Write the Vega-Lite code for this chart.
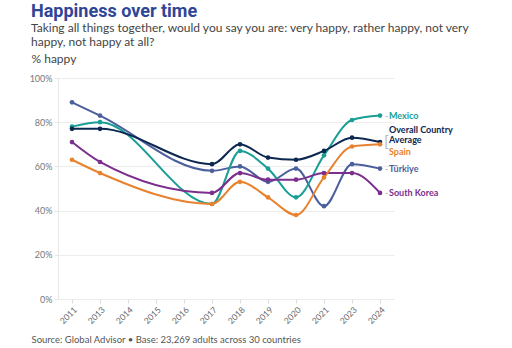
{
  "$schema": "https://vega.github.io/schema/vega-lite/v6.json",
  "width": 336,
  "height": 221,
  "padding": {"left": 29, "top": 3, "right": 5, "bottom": 5},
  "background": "white",
  "config": {
    "view": {"stroke": null},
    "font": "Lato",
    "axis": {"labelFont": "Lato", "titleFont": "Lato"}
  },
  "title": {
    "text": "Happiness over time",
    "subtitle": ["Taking all things together, would you say you are: very happy, rather happy, not very", "happy, not happy at all?"],
    "anchor": "start",
    "frame": "group",
    "dx": -27,
    "font": "Roboto",
    "fontSize": 18,
    "fontWeight": "bold",
    "color": "#2f4596",
    "subtitleFont": "Lato",
    "subtitleFontSize": 12,
    "subtitleColor": "#444444",
    "subtitleLineHeight": 14,
    "subtitlePadding": 2,
    "offset": 4
  },
  "data": {
    "values": [
      {"year": "2011", "country": "Türkiye", "value": 89},
      {"year": "2013", "country": "Türkiye", "value": 83},
      {"year": "2017", "country": "Türkiye", "value": 58},
      {"year": "2018", "country": "Türkiye", "value": 60},
      {"year": "2019", "country": "Türkiye", "value": 53},
      {"year": "2020", "country": "Türkiye", "value": 59},
      {"year": "2021", "country": "Türkiye", "value": 42},
      {"year": "2023", "country": "Türkiye", "value": 61},
      {"year": "2024", "country": "Türkiye", "value": 59},
      {"year": "2011", "country": "Mexico", "value": 78},
      {"year": "2013", "country": "Mexico", "value": 80},
      {"year": "2017", "country": "Mexico", "value": 43},
      {"year": "2018", "country": "Mexico", "value": 67},
      {"year": "2019", "country": "Mexico", "value": 59},
      {"year": "2020", "country": "Mexico", "value": 46},
      {"year": "2021", "country": "Mexico", "value": 65},
      {"year": "2023", "country": "Mexico", "value": 81},
      {"year": "2024", "country": "Mexico", "value": 83},
      {"year": "2011", "country": "Overall Country Average", "value": 77},
      {"year": "2013", "country": "Overall Country Average", "value": 77},
      {"year": "2017", "country": "Overall Country Average", "value": 61},
      {"year": "2018", "country": "Overall Country Average", "value": 70},
      {"year": "2019", "country": "Overall Country Average", "value": 64},
      {"year": "2020", "country": "Overall Country Average", "value": 63},
      {"year": "2021", "country": "Overall Country Average", "value": 67},
      {"year": "2023", "country": "Overall Country Average", "value": 73},
      {"year": "2024", "country": "Overall Country Average", "value": 71},
      {"year": "2011", "country": "South Korea", "value": 71},
      {"year": "2013", "country": "South Korea", "value": 62},
      {"year": "2017", "country": "South Korea", "value": 48},
      {"year": "2018", "country": "South Korea", "value": 57},
      {"year": "2019", "country": "South Korea", "value": 54},
      {"year": "2020", "country": "South Korea", "value": 54},
      {"year": "2021", "country": "South Korea", "value": 57},
      {"year": "2023", "country": "South Korea", "value": 57},
      {"year": "2024", "country": "South Korea", "value": 48},
      {"year": "2011", "country": "Spain", "value": 63},
      {"year": "2013", "country": "Spain", "value": 57},
      {"year": "2017", "country": "Spain", "value": 43},
      {"year": "2018", "country": "Spain", "value": 53},
      {"year": "2019", "country": "Spain", "value": 46},
      {"year": "2020", "country": "Spain", "value": 38},
      {"year": "2021", "country": "Spain", "value": 55},
      {"year": "2023", "country": "Spain", "value": 69},
      {"year": "2024", "country": "Spain", "value": 70}
    ]
  },
  "encoding": {
    "x": {
      "field": "year",
      "type": "ordinal",
      "scale": {"type": "point", "padding": 0.5, "domain": ["2011", "2013", "2014", "2015", "2016", "2017", "2018", "2019", "2020", "2021", "2023", "2024"]},
      "axis": {
        "title": "Source: Global Advisor • Base: 23,269 adults across 30 countries",
        "titleAnchor": "start",
        "titleAlign": "left",
        "titleBaseline": "middle",
        "titleX": -27,
        "titleY": 40,
        "titleFontSize": 9.5,
        "titleFontWeight": "normal",
        "titleColor": "#555555",
        "labelAngle": -45,
        "labelFontSize": 8.5,
        "labelColor": "#666666",
        "domain": false,
        "ticks": true,
        "tickColor": "#dddddd",
        "tickSize": 4,
        "grid": false
      }
    },
    "y": {
      "field": "value",
      "type": "quantitative",
      "scale": {"domain": [0, 100]},
      "axis": {
        "title": "% happy",
        "titleAngle": 0,
        "titleAlign": "left",
        "titleBaseline": "middle",
        "titleX": -27,
        "titleY": -20,
        "titleFontSize": 12,
        "titleFontWeight": "normal",
        "titleColor": "#444444",
        "values": [0, 20, 40, 60, 80, 100],
        "labelExpr": "datum.value + '%'",
        "labelFontSize": 9,
        "labelColor": "#777777",
        "domain": true,
        "domainColor": "#e6e6e6",
        "ticks": true,
        "tickColor": "#e6e6e6",
        "tickSize": 4,
        "gridColor": "#ececec"
      }
    },
    "color": {
      "field": "country",
      "type": "nominal",
      "scale": {
        "domain": ["Mexico", "Overall Country Average", "Spain", "Türkiye", "South Korea"],
        "range": ["#1a9e96", "#0c2750", "#e8822f", "#4b5f9c", "#7b2e8e"]
      },
      "legend": null
    }
  },
  "layer": [
    {"mark": {"type": "line", "interpolate": "monotone", "strokeWidth": 2}},
    {"mark": {"type": "circle", "size": 22, "opacity": 1}},
    {
      "transform": [{"filter": "datum.year == '2024' && (datum.country == 'Mexico' || datum.country == 'Türkiye' || datum.country == 'South Korea')"}],
      "mark": {"type": "text", "align": "left", "dx": 5, "text": "-", "fontSize": 9},
      "encoding": {"color": {"value": "#aaaaaa"}}
    },
    {
      "transform": [{"filter": "datum.year == '2024' && (datum.country == 'Mexico' || datum.country == 'Türkiye' || datum.country == 'South Korea')"}],
      "mark": {"type": "text", "align": "left", "dx": 9, "fontSize": 9, "fontWeight": "bold", "font": "Lato"},
      "encoding": {"text": {"field": "country"}}
    },
    {
      "transform": [{"filter": "datum.year == '2024' && datum.country == 'Overall Country Average'"}],
      "mark": {"type": "text", "align": "left", "dx": 9, "dy": -12, "fontSize": 9, "fontWeight": "bold", "font": "Lato", "text": ["Overall Country", "Average"], "lineHeight": 10}
    },
    {
      "transform": [{"filter": "datum.year == '2024' && datum.country == 'Spain'"}],
      "mark": {"type": "text", "align": "left", "dx": 9, "dy": 8, "fontSize": 9, "fontWeight": "bold", "font": "Lato"},
      "encoding": {"text": {"field": "country"}}
    },
    {
      "transform": [{"filter": "datum.year == '2024' && datum.country == 'Overall Country Average'"}],
      "mark": {"type": "text", "align": "left", "dx": 4, "dy": 0, "fontSize": 16, "font": "Lato", "text": "[", "color": "#bbbbbb"},
      "encoding": {"color": {"value": "#bbbbbb"}}
    }
  ]
}
